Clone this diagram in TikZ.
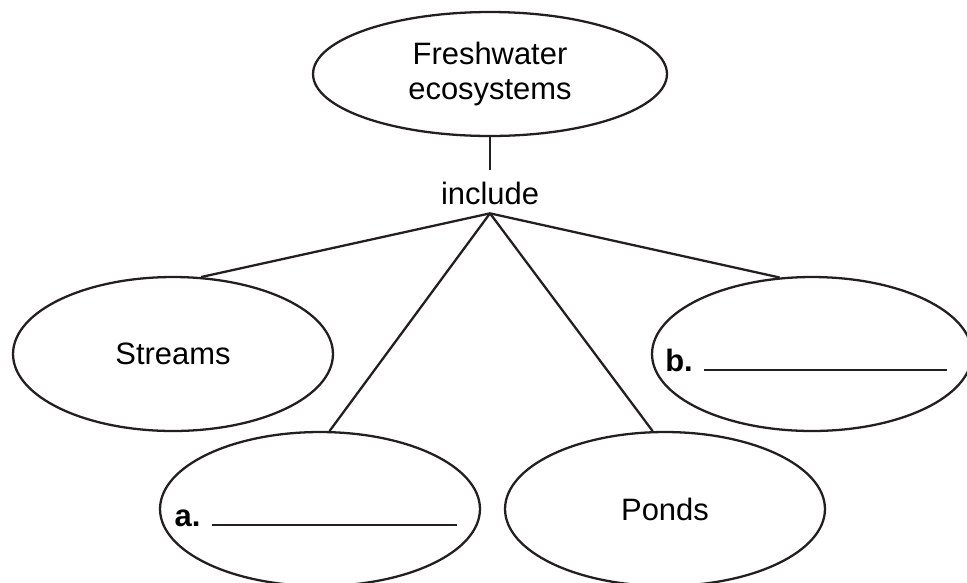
\documentclass[tikz,border=0pt]{standalone}
\usepackage{fontspec}
\setmainfont{Liberation Sans}
\usetikzlibrary{shapes.geometric}
\definecolor{ink}{HTML}{231F20}

\tikzset{
  bubble/.style={draw=ink, ellipse, line width=1.3pt, inner sep=0pt,
    minimum width=6.4cm, minimum height=3.08cm},
  blankbubble/.style={bubble, text height=0.68cm, text depth=0pt},
  link/.style={draw=ink, line width=1.3pt}
}

\begin{document}
\begin{tikzpicture}[x=0.02cm, y=-0.02cm, font=\fontsize{17.6pt}{19.8pt}\selectfont]
    \useasboundingbox (0,0) rectangle (967,582);
    \node (fresh) [bubble, minimum width=7.08cm, minimum height=2.48cm, align=center] at (490,74) {Freshwater\\ecosystems};
    \node (incl) [inner sep=0pt, text height=0.68cm, text depth=0.18cm, anchor=base] at (490,204) {include};
    \node (streams) [bubble] at (173,354) {Streams};
    \node (bb) [blankbubble] at (812,354) {\makebox[0pt]{{\bfseries b.}\hspace{0.22cm}{\color{ink}\rule{4.86cm}{1.3pt}}\hspace{0.24cm}}};
    \node (aa) [blankbubble] at (320,509) {\makebox[0pt]{{\bfseries a.}\hspace{0.24cm}{\color{ink}\rule{4.9cm}{1.3pt}}\hspace{0.16cm}}};
    \node (ponds) [bubble] at (665,509) {Ponds};
    \draw [link] (fresh) -- (incl);
    \draw [link] (incl.south) -- (streams.70);
    \draw [link] (incl.south) -- (aa.83);
    \draw [link] (incl.south) -- (ponds.99);
    \draw [link] (incl.south) -- (bb.113);
  \end{tikzpicture}
\end{document}
